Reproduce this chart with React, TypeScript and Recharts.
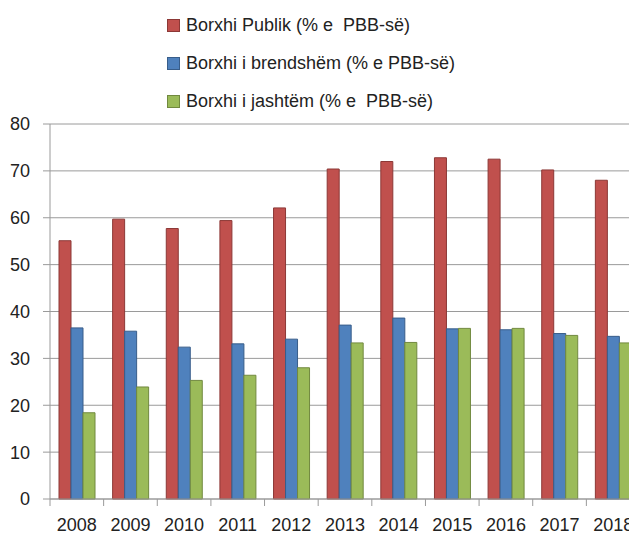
import { BarChart, Bar, XAxis, YAxis, CartesianGrid } from "recharts";

const years = ["2008", "2009", "2010", "2011", "2012", "2013", "2014", "2015", "2016", "2017", "2018"];
const publicDebt = [55.1, 59.7, 57.7, 59.4, 62.1, 70.4, 72.0, 72.8, 72.5, 70.2, 68.0];
const domesticDebt = [36.5, 35.8, 32.4, 33.1, 34.1, 37.1, 38.6, 36.3, 36.1, 35.3, 34.7];
const externalDebt = [18.4, 23.9, 25.3, 26.4, 28.0, 33.3, 33.4, 36.4, 36.4, 34.9, 33.3];
const yTicks = [0, 10, 20, 30, 40, 50, 60, 70, 80];

const series = [
  { key: "publik", name: "Borxhi Publik (% e  PBB-së)", fill: "#C0504D", stroke: "#8C3836" },
  { key: "brendshem", name: "Borxhi i brendshëm (% e PBB-së)", fill: "#4F81BD", stroke: "#385D8A" },
  { key: "jashtem", name: "Borxhi i jashtëm (% e  PBB-së)", fill: "#9BBB59", stroke: "#71893F" },
];

const data = years.map((y, i) => ({
  year: y,
  publik: publicDebt[i],
  brendshem: domesticDebt[i],
  jashtem: externalDebt[i],
}));

const FONT = "'Liberation Sans', Arial, sans-serif";
const GRID = "#9a9a9a";

const YearTick = (props: any) => {
  const { x, y, payload } = props;
  const half = payload && payload.offset ? payload.offset : 26.8;
  return (
    <g>
      <line x1={x - half} y1={y} x2={x - half} y2={y + 7} stroke={GRID} />
      <text x={x} y={y + 26} textAnchor="middle" dominantBaseline="central" fontSize={18} fill="#222" fontFamily={FONT}>
        {payload.value}
      </text>
    </g>
  );
};

// legend drawn as plain html so it doesn't eat into the plot area
const LegendBox = () => (
  <div style={{ position: "absolute", top: 6, left: 167, fontFamily: FONT, fontSize: 18, color: "#222" }}>
    {series.map((s) => (
      <div key={s.key} style={{ height: 38, display: "flex", alignItems: "center" }}>
        <span
          style={{
            width: 11,
            height: 11,
            background: s.fill,
            border: `1px solid ${s.stroke}`,
            marginRight: 6,
            display: "inline-block",
          }}
        />
        <span style={{ whiteSpace: "pre" }}>{s.name}</span>
      </div>
    ))}
  </div>
);

// fixed frame at the page origin, the 2018 group runs past the right edge like the original
const App = () => {
  return (
    <div style={{ position: "fixed", left: 0, top: 0, width: 629, height: 534, overflow: "hidden", background: "#fff" }}>
      <BarChart
        width={668}
        height={534}
        data={data}
        margin={{ top: 124, right: 28, left: 8, bottom: 0 }}
        barGap={0}
      >
        <CartesianGrid vertical={false} stroke={GRID} />
        <XAxis
          dataKey="year"
          height={35}
          tickSize={0}
          tickMargin={0}
          tickLine={false}
          axisLine={{ stroke: GRID }}
          tick={<YearTick />}
          interval={0}
        />
        <YAxis
          width={42}
          domain={[0, 80]}
          ticks={yTicks}
          tickSize={7}
          tickMargin={13}
          tickLine={{ stroke: GRID }}
          axisLine={{ stroke: GRID }}
          tick={{ fontSize: 18, fill: "#222", fontFamily: FONT }}
        />
        {series.map((s) => (
          <Bar
            key={s.key}
            dataKey={s.key}
            name={s.name}
            fill={s.fill}
            stroke={s.stroke}
            strokeWidth={1}
            barSize={12}
            isAnimationActive={false}
          />
        ))}
      </BarChart>
      <LegendBox />
    </div>
  );
};

export default App;
